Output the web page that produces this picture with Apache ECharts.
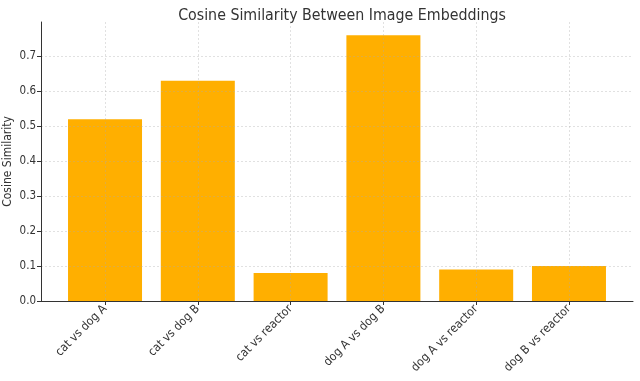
<!DOCTYPE html>
<html><head><meta charset="utf-8">
<script src="https://cdn.jsdelivr.net/npm/echarts@6/dist/echarts.min.js"></script>
<style>html,body{margin:0;padding:0;background:#fff}#c{width:640px;height:381px}</style>
</head><body><div id="c"></div>
<script>
const categories = ['cat vs dog A','cat vs dog B','cat vs reactor','dog A vs dog B','dog A vs reactor','dog B vs reactor'];
const values = [0.52, 0.63, 0.08, 0.76, 0.09, 0.10];
const yTicks = [0, 0.1, 0.2, 0.3, 0.4, 0.5, 0.6, 0.7];
const titleText = 'Cosine Similarity Between Image Embeddings';
const yName = 'Cosine Similarity';

const idx = categories.map((_, i) => i);
const chart = echarts.init(document.getElementById('c'), null, {renderer: 'canvas'});
const font = '"DejaVu Sans Condensed", "DejaVu Sans"';
const gridLine = {show: true, lineStyle: {color: 'rgba(170,170,170,0.45)', type: [2, 2], width: 0.8}};
chart.setOption({
  animation: false,
  backgroundColor: '#fff',
  title: {text: titleText, left: 337, top: 3, textAlign: 'center',
    textStyle: {fontFamily: font, fontSize: 15.8, fontWeight: 'normal', color: '#333'}},
  grid: {left: 41, right: 7, top: 22, bottom: 80, containLabel: false, outerBoundsMode: 'none'},
  xAxis: {
    type: 'value', min: -0.69, max: 5.69, z: 5,
    axisLine: {show: true, onZero: false, lineStyle: {color: '#333', width: 1}},
    axisTick: {show: true, customValues: idx, length: 4, lineStyle: {color: '#333'}},
    axisLabel: {customValues: idx, rotate: 45, fontFamily: font, fontSize: 12, color: '#333',
      margin: 6, formatter: v => categories[Math.round(v)] || ''},
    splitLine: gridLine
  },
  yAxis: {
    type: 'value', min: 0, max: 0.798, z: 5,
    name: yName, nameLocation: 'middle', nameGap: 27, nameMoveOverlap: false,
    nameTextStyle: {fontFamily: font, fontSize: 12, color: '#333'},
    axisLine: {show: true, onZero: false, lineStyle: {color: '#333', width: 1}},
    axisTick: {show: true, customValues: yTicks, length: 4, lineStyle: {color: '#333'}},
    axisLabel: {customValues: yTicks, fontFamily: font, fontSize: 11.5, color: '#333', margin: 5,
      formatter: v => v.toFixed(1)},
    splitLine: gridLine
  },
  series: [{
    type: 'bar', barWidth: 74,
    itemStyle: {color: '#ffaf00'},
    data: values.map((v, i) => [i, v]),
    z: 1
  }]
});
</script></body></html>
